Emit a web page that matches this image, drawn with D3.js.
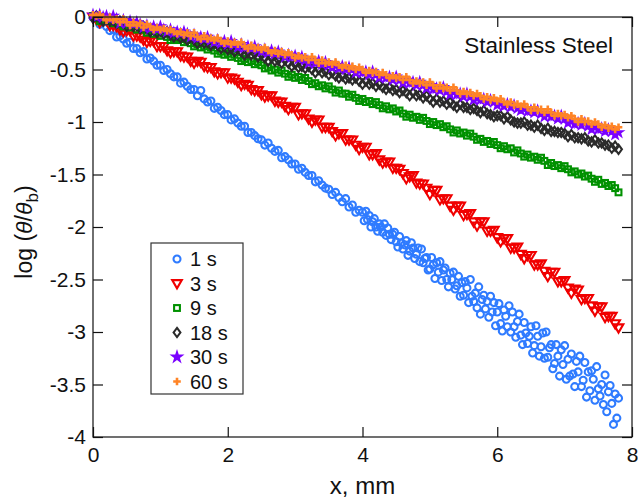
<!DOCTYPE html>
<html><head><meta charset="utf-8">
<script src="https://cdn.jsdelivr.net/npm/d3@7"></script>
<style>body{margin:0;background:#fff} text{font-family:Arial,"Liberation Sans",sans-serif;fill:#111}</style>
</head><body><svg id="c" width="638" height="498"></svg>
<script>
// x positions (mm), 0.05 mm grid used by the 3-60 s series
const xs = [0,0.05,0.1,0.15,0.2,0.25,0.3,0.35,0.4,0.45,0.5,0.55,0.6,0.65,0.7,0.75,0.8,0.85,0.9,0.95,1.0,1.05,1.1,1.15,1.2,1.25,1.3,1.35,1.4,1.45,1.5,1.55,1.6,1.65,1.7,1.75,1.8,1.85,1.9,1.95,2.0,2.05,2.1,2.15,2.2,2.25,2.3,2.35,2.4,2.45,2.5,2.55,2.6,2.65,2.7,2.75,2.8,2.85,2.9,2.95,3.0,3.05,3.1,3.15,3.2,3.25,3.3,3.35,3.4,3.45,3.5,3.55,3.6,3.65,3.7,3.75,3.8,3.85,3.9,3.95,4.0,4.05,4.1,4.15,4.2,4.25,4.3,4.35,4.4,4.45,4.5,4.55,4.6,4.65,4.7,4.75,4.8,4.85,4.9,4.95,5.0,5.05,5.1,5.15,5.2,5.25,5.3,5.35,5.4,5.45,5.5,5.55,5.6,5.65,5.7,5.75,5.8,5.85,5.9,5.95,6.0,6.05,6.1,6.15,6.2,6.25,6.3,6.35,6.4,6.45,6.5,6.55,6.6,6.65,6.7,6.75,6.8,6.85,6.9,6.95,7.0,7.05,7.1,7.15,7.2,7.25,7.3,7.35,7.4,7.45,7.5,7.55,7.6,7.65,7.7,7.75,7.8];
// x positions (mm) of the 1 s series (denser beyond 4 mm)
const xs1 = [0,0.05,0.1,0.15,0.2,0.25,0.3,0.35,0.4,0.45,0.5,0.55,0.6,0.65,0.7,0.75,0.8,0.85,0.9,0.95,1.0,1.05,1.1,1.15,1.2,1.25,1.3,1.35,1.4,1.45,1.5,1.55,1.6,1.65,1.7,1.75,1.8,1.85,1.9,1.95,2.0,2.05,2.1,2.15,2.2,2.25,2.3,2.35,2.4,2.45,2.5,2.55,2.6,2.65,2.7,2.75,2.8,2.85,2.9,2.95,3.0,3.05,3.1,3.15,3.2,3.25,3.3,3.35,3.4,3.45,3.5,3.55,3.6,3.65,3.7,3.75,3.8,3.85,3.9,3.95,
 4,4.025,4.05,4.075,4.1,4.125,4.15,4.175,4.2,4.225,4.25,4.275,4.3,4.325,4.35,4.375,4.4,4.425,4.45,4.475,4.5,4.525,4.55,4.575,4.6,4.625,4.65,4.675,4.7,4.725,4.75,4.775,4.8,4.825,4.85,4.875,4.9,4.925,4.95,4.975,5,5.025,5.05,5.075,5.1,5.125,5.15,5.175,5.2,5.225,5.25,5.275,5.3,5.325,5.35,5.375,5.4,5.425,5.45,5.475,5.5,5.525,5.55,5.575,5.6,5.625,5.65,5.675,5.7,5.725,5.75,5.775,5.8,5.825,5.85,5.875,5.9,5.925,5.95,5.975,6,6.025,6.05,6.075,6.1,6.125,6.15,6.175,6.2,6.225,6.25,6.275,6.3,6.325,6.35,6.375,6.4,6.425,6.45,6.475,6.5,6.525,6.55,6.575,6.6,6.625,6.65,6.675,6.7,6.725,6.75,6.775,6.8,6.825,6.85,6.875,6.9,6.925,6.95,6.975,7,7.025,7.05,7.075,7.1,7.125,7.15,7.175,7.2,7.225,7.25,7.275,7.3,7.325,7.35,7.375,7.4,7.425,7.45,7.475,7.5,7.525,7.55,7.575,7.6,7.625,7.65,7.675,7.7,7.725,7.75,7.775,7.8];

const s1 = [0,-0.01,-0.07,-0.05,-0.09,-0.13,-0.12,-0.19,-0.18,-0.21,-0.25,-0.24,-0.30,-0.30,-0.34,-0.33,-0.40,-0.39,-0.42,-0.46,-0.46,-0.51,-0.50,-0.54,-0.57,-0.57,-0.63,-0.62,-0.66,-0.69,-0.69,-0.75,-0.70,-0.78,-0.81,-0.80,-0.87,-0.86,-0.89,-0.93,-0.93,-0.98,-0.97,-1.01,-1.04,-1.04,-1.10,-1.10,-1.13,-1.16,-1.17,-1.22,-1.20,-1.25,-1.28,-1.27,-1.34,-1.33,-1.36,-1.40,-1.40,-1.45,-1.44,-1.48,-1.51,-1.51,-1.57,-1.56,-1.60,-1.63,-1.64,-1.69,-1.67,-1.72,-1.76,-1.73,-1.81,-1.79,-1.86,-1.84,
 -1.86,-1.94,-1.85,-1.93,-1.89,-2.00,-1.95,-1.92,-2.00,-2.04,-1.97,-2.00,-2.05,-1.97,-2.08,-2.01,-2.07,-2.12,-2.07,-2.05,-2.14,-2.19,-2.09,-2.15,-2.21,-2.17,-2.13,-2.27,-2.23,-2.15,-2.20,-2.30,-2.26,-2.20,-2.33,-2.21,-2.34,-2.30,-2.29,-2.41,-2.40,-2.29,-2.36,-2.49,-2.34,-2.43,-2.33,-2.51,-2.41,-2.39,-2.50,-2.57,-2.44,-2.50,-2.43,-2.59,-2.56,-2.47,-2.66,-2.53,-2.65,-2.52,-2.58,-2.72,-2.50,-2.66,-2.71,-2.63,-2.77,-2.57,-2.83,-2.69,-2.65,-2.78,-2.71,-2.86,-2.66,-2.81,-2.72,-2.94,-2.81,-2.73,-2.92,-2.99,-2.79,-2.85,-2.95,-2.75,-3.00,-2.81,-2.95,-3.05,-2.90,-2.83,-3.03,-3.12,-2.91,-3.01,-3.11,-3.04,-2.95,-3.20,-3.13,-2.94,-3.04,-3.23,-3.14,-3.01,-3.25,-3.00,-3.24,-3.15,-3.12,-3.35,-3.30,-3.12,-3.23,-3.42,-3.17,-3.31,-3.13,-3.45,-3.26,-3.42,-3.21,-3.40,-3.52,-3.28,-3.38,-3.23,-3.52,-3.46,-3.29,-3.62,-3.38,-3.56,-3.37,-3.45,-3.65,-3.33,-3.54,-3.61,-3.50,-3.69,-3.41,-3.76,-3.57,-3.51,-3.68,-3.88,-3.59,-3.82,-3.63];
const s3 = [0,-0.02,-0.05,-0.03,-0.03,-0.08,-0.08,-0.09,-0.12,-0.14,-0.13,-0.13,-0.18,-0.18,-0.19,-0.22,-0.24,-0.23,-0.23,-0.28,-0.28,-0.28,-0.32,-0.34,-0.33,-0.33,-0.37,-0.38,-0.38,-0.42,-0.44,-0.42,-0.43,-0.47,-0.48,-0.48,-0.52,-0.54,-0.53,-0.53,-0.58,-0.58,-0.59,-0.62,-0.65,-0.64,-0.65,-0.69,-0.70,-0.70,-0.74,-0.76,-0.75,-0.75,-0.80,-0.81,-0.81,-0.85,-0.88,-0.86,-0.86,-0.93,-0.92,-0.92,-0.97,-1.00,-0.98,-0.98,-1.05,-1.05,-1.05,-1.09,-1.13,-1.11,-1.11,-1.17,-1.17,-1.17,-1.22,-1.26,-1.24,-1.24,-1.31,-1.31,-1.30,-1.36,-1.39,-1.38,-1.38,-1.44,-1.44,-1.45,-1.49,-1.54,-1.52,-1.51,-1.58,-1.59,-1.59,-1.63,-1.69,-1.65,-1.65,-1.74,-1.73,-1.73,-1.80,-1.84,-1.80,-1.80,-1.89,-1.88,-1.87,-1.95,-1.99,-1.95,-1.95,-2.04,-2.04,-2.03,-2.10,-2.14,-2.11,-2.11,-2.20,-2.20,-2.19,-2.26,-2.30,-2.27,-2.27,-2.36,-2.36,-2.35,-2.42,-2.47,-2.43,-2.43,-2.52,-2.52,-2.51,-2.58,-2.63,-2.59,-2.60,-2.69,-2.68,-2.68,-2.75,-2.80,-2.76,-2.76,-2.86,-2.85,-2.85,-2.92,-2.96];
const s9 = [0.01,-0.01,-0.04,-0.01,-0.04,-0.03,-0.06,-0.04,-0.07,-0.09,-0.07,-0.10,-0.09,-0.12,-0.10,-0.12,-0.15,-0.13,-0.16,-0.15,-0.18,-0.16,-0.19,-0.22,-0.20,-0.22,-0.21,-0.24,-0.22,-0.25,-0.28,-0.26,-0.29,-0.28,-0.31,-0.29,-0.32,-0.35,-0.33,-0.36,-0.35,-0.38,-0.36,-0.39,-0.42,-0.40,-0.43,-0.42,-0.45,-0.43,-0.46,-0.49,-0.48,-0.51,-0.50,-0.53,-0.51,-0.54,-0.57,-0.55,-0.58,-0.57,-0.60,-0.58,-0.61,-0.64,-0.63,-0.66,-0.65,-0.68,-0.66,-0.69,-0.72,-0.70,-0.73,-0.73,-0.76,-0.74,-0.77,-0.80,-0.78,-0.81,-0.80,-0.83,-0.81,-0.84,-0.87,-0.85,-0.88,-0.87,-0.90,-0.89,-0.92,-0.95,-0.93,-0.96,-0.95,-0.98,-0.96,-0.99,-1.02,-1.00,-1.03,-1.02,-1.05,-1.04,-1.07,-1.10,-1.08,-1.11,-1.10,-1.13,-1.11,-1.14,-1.17,-1.16,-1.19,-1.18,-1.21,-1.19,-1.22,-1.25,-1.23,-1.26,-1.25,-1.29,-1.27,-1.30,-1.33,-1.31,-1.34,-1.33,-1.36,-1.34,-1.37,-1.41,-1.39,-1.42,-1.41,-1.44,-1.42,-1.45,-1.48,-1.47,-1.50,-1.49,-1.52,-1.51,-1.54,-1.57,-1.55,-1.59,-1.58,-1.61,-1.60,-1.63,-1.67];
const s18 = [-0.01,0.01,-0.01,-0.04,-0.02,-0.04,-0.03,-0.06,-0.04,-0.06,-0.09,-0.07,-0.09,-0.08,-0.11,-0.09,-0.11,-0.14,-0.12,-0.15,-0.13,-0.16,-0.14,-0.17,-0.19,-0.17,-0.20,-0.19,-0.22,-0.19,-0.22,-0.25,-0.23,-0.25,-0.24,-0.27,-0.25,-0.27,-0.30,-0.28,-0.31,-0.30,-0.33,-0.30,-0.33,-0.36,-0.34,-0.36,-0.35,-0.38,-0.36,-0.39,-0.42,-0.39,-0.42,-0.41,-0.44,-0.41,-0.44,-0.47,-0.45,-0.48,-0.47,-0.49,-0.47,-0.50,-0.53,-0.50,-0.53,-0.52,-0.55,-0.53,-0.56,-0.58,-0.56,-0.59,-0.58,-0.60,-0.58,-0.61,-0.64,-0.61,-0.64,-0.63,-0.66,-0.64,-0.67,-0.69,-0.67,-0.70,-0.69,-0.72,-0.70,-0.72,-0.75,-0.72,-0.75,-0.74,-0.77,-0.75,-0.78,-0.81,-0.78,-0.81,-0.80,-0.83,-0.81,-0.84,-0.86,-0.83,-0.86,-0.86,-0.88,-0.87,-0.89,-0.91,-0.89,-0.92,-0.93,-0.95,-0.94,-0.94,-0.97,-0.95,-0.98,-1.00,-1.01,-1.01,-1.00,-1.03,-1.03,-1.05,-1.03,-1.06,-1.08,-1.06,-1.09,-1.09,-1.10,-1.10,-1.11,-1.14,-1.12,-1.15,-1.15,-1.16,-1.15,-1.18,-1.19,-1.17,-1.20,-1.20,-1.22,-1.22,-1.25,-1.23,-1.26];
const s30 = [0.02,0.00,0.02,0.00,0.01,-0.02,0.01,-0.02,-0.06,-0.03,-0.06,-0.04,-0.07,-0.05,-0.07,-0.10,-0.08,-0.11,-0.09,-0.12,-0.09,-0.12,-0.14,-0.12,-0.15,-0.14,-0.16,-0.14,-0.16,-0.19,-0.17,-0.20,-0.19,-0.21,-0.19,-0.22,-0.24,-0.22,-0.25,-0.23,-0.26,-0.23,-0.26,-0.29,-0.26,-0.29,-0.28,-0.30,-0.28,-0.31,-0.33,-0.31,-0.34,-0.32,-0.35,-0.33,-0.35,-0.38,-0.36,-0.38,-0.37,-0.40,-0.38,-0.41,-0.44,-0.41,-0.44,-0.42,-0.45,-0.43,-0.46,-0.48,-0.46,-0.49,-0.47,-0.50,-0.48,-0.50,-0.53,-0.51,-0.53,-0.52,-0.55,-0.52,-0.55,-0.58,-0.56,-0.58,-0.57,-0.60,-0.57,-0.60,-0.63,-0.60,-0.63,-0.62,-0.65,-0.62,-0.65,-0.68,-0.65,-0.69,-0.68,-0.70,-0.67,-0.71,-0.74,-0.71,-0.74,-0.73,-0.76,-0.73,-0.76,-0.79,-0.77,-0.79,-0.78,-0.81,-0.79,-0.81,-0.84,-0.82,-0.85,-0.83,-0.86,-0.84,-0.87,-0.89,-0.87,-0.90,-0.89,-0.91,-0.89,-0.92,-0.95,-0.92,-0.95,-0.94,-0.97,-0.94,-0.97,-1.01,-0.99,-1.02,-1.01,-1.03,-1.01,-1.04,-1.07,-1.05,-1.07,-1.06,-1.09,-1.07,-1.09,-1.12,-1.10];
const s60 = [0.02,0.01,0.02,0.00,-0.03,0.00,-0.03,-0.02,-0.05,-0.02,-0.05,-0.08,-0.05,-0.08,-0.06,-0.10,-0.07,-0.09,-0.12,-0.10,-0.12,-0.11,-0.13,-0.12,-0.14,-0.16,-0.14,-0.17,-0.15,-0.18,-0.15,-0.19,-0.21,-0.18,-0.21,-0.20,-0.22,-0.20,-0.23,-0.25,-0.23,-0.26,-0.24,-0.26,-0.24,-0.28,-0.30,-0.27,-0.30,-0.29,-0.31,-0.29,-0.32,-0.34,-0.32,-0.35,-0.33,-0.36,-0.34,-0.36,-0.39,-0.37,-0.39,-0.38,-0.41,-0.38,-0.41,-0.44,-0.41,-0.44,-0.43,-0.45,-0.43,-0.46,-0.48,-0.46,-0.49,-0.47,-0.50,-0.48,-0.50,-0.53,-0.51,-0.53,-0.52,-0.55,-0.53,-0.55,-0.58,-0.56,-0.58,-0.57,-0.60,-0.57,-0.60,-0.63,-0.61,-0.63,-0.62,-0.65,-0.62,-0.65,-0.68,-0.65,-0.68,-0.67,-0.70,-0.67,-0.70,-0.73,-0.71,-0.73,-0.72,-0.75,-0.73,-0.75,-0.78,-0.76,-0.79,-0.77,-0.80,-0.78,-0.81,-0.83,-0.81,-0.84,-0.83,-0.85,-0.83,-0.86,-0.89,-0.86,-0.89,-0.88,-0.91,-0.88,-0.91,-0.94,-0.92,-0.94,-0.93,-0.96,-0.94,-0.97,-1.00,-0.97,-1.00,-0.99,-1.02,-1.00,-1.02,-1.05,-1.03,-1.06,-1.04,-1.07,-1.05];

const seriesNames = ["1 s","3 s","9 s","18 s","30 s","60 s"];
const seriesColors = ["#2f7bff","#f00000","#009100","#2b2b2b","#7a00ff","#ff8426"];
const seriesShapes = ["circle","triangle","square","diamond","star","plus"];
const xTicks = [0,2,4,6,8];
const yTicks = [0,-0.5,-1,-1.5,-2,-2.5,-3,-3.5,-4];
const yTickLabels = ["0","-0.5","-1","-1.5","-2","-2.5","-3","-3.5","-4"];

const series = [
  {xv:xs1, yv:s1},{xv:xs, yv:s3},{xv:xs, yv:s9},
  {xv:xs, yv:s18},{xv:xs, yv:s30},{xv:xs, yv:s60}
];

const svg = d3.select("#c");
const L=93, R=632, T=17, B=437;
const x = d3.scaleLinear().domain([0,8]).range([L,R]);
const y = d3.scaleLinear().domain([-4,0]).range([B,T]);

function marker(g, shape, color, legend){
  const k = legend ? 1.0 : 1;
  if(shape==="circle") g.append("circle").attr("r",3.5*k).attr("fill","none").attr("stroke",color).attr("stroke-width",2.1);
  else if(shape==="triangle") g.append("path").attr("d",`M${-4.8*k},${-3.4*k}L${4.8*k},${-3.4*k}L0,${4.8*k}Z`).attr("fill","none").attr("stroke",color).attr("stroke-width",2.1);
  else if(shape==="square") g.append("rect").attr("x",-2.9*k).attr("y",-2.9*k).attr("width",5.8*k).attr("height",5.8*k).attr("fill","none").attr("stroke",color).attr("stroke-width",2.1);
  else if(shape==="diamond") g.append("path").attr("d",`M0,${-4.6*k}L${3.4*k},0L0,${4.6*k}L${-3.4*k},0Z`).attr("fill","none").attr("stroke",color).attr("stroke-width",2.1);
  else if(shape==="star") g.append("path").attr("d",d3.symbol(d3.symbolStar,legend?70:60)()).attr("fill",color);
  else g.append("path").attr("d",`M${-3.8*k},0H${3.8*k}M0,${-3.8*k}V${3.8*k}`).attr("stroke",color).attr("stroke-width",2.6);
}

const plot = svg.append("g");
series.forEach((s,i)=>{
  const gs = plot.append("g");
  const n = Math.min(s.xv.length, s.yv.length);
  for(let j=0;j<n;j++){
    const g = gs.append("g").attr("transform",`translate(${x(s.xv[j])},${y(s.yv[j])})`);
    marker(g, seriesShapes[i], seriesColors[i], false);
  }
});

// frame
svg.append("rect").attr("x",L).attr("y",T).attr("width",R-L).attr("height",B-T)
  .attr("fill","none").attr("stroke","#111").attr("stroke-width",1.2);

const fs = "21px";
const ax = svg.append("g").attr("transform",`translate(0,${B})`)
  .call(d3.axisBottom(x).tickValues(xTicks).tickFormat(d3.format("d")).tickSizeInner(-10).tickSizeOuter(0).tickPadding(10));
const at = svg.append("g").attr("transform",`translate(0,${T})`)
  .call(d3.axisTop(x).tickValues(xTicks).tickFormat("").tickSizeInner(-10).tickSizeOuter(0));
const ay = svg.append("g").attr("transform",`translate(${L},0)`)
  .call(d3.axisLeft(y).tickValues(yTicks).tickFormat((d,i)=>yTickLabels[i]).tickSizeInner(-10).tickSizeOuter(0).tickPadding(7));
const ar = svg.append("g").attr("transform",`translate(${R},0)`)
  .call(d3.axisRight(y).tickValues(yTicks).tickFormat("").tickSizeInner(-10).tickSizeOuter(0));
[ax,at,ay,ar].forEach(a=>{
  a.select(".domain").remove();
  a.selectAll(".tick line").attr("stroke","#111").attr("stroke-width",1.2);
  a.selectAll("text").attr("font-size",fs).attr("font-family","Arial, 'Liberation Sans', sans-serif").attr("fill","#111");
});

// axis titles
svg.append("text").attr("x",(L+R)/2).attr("y",494).attr("text-anchor","middle")
  .attr("font-size","24px").text("x, mm");
const yl = svg.append("text").attr("transform",`translate(32,${(T+B)/2+5}) rotate(-90)`)
  .attr("text-anchor","middle").attr("font-size","23px");
yl.append("tspan").text("log (");
yl.append("tspan").attr("font-style","italic").text("θ");
yl.append("tspan").text("/");
yl.append("tspan").attr("font-style","italic").text("θ");
yl.append("tspan").attr("font-size","17px").attr("dy","6").text("b");
yl.append("tspan").attr("dy","-6").text(")");

// annotation
svg.append("text").attr("x",613).attr("y",53).attr("text-anchor","end")
  .attr("font-size","22.5px").text("Stainless Steel");

// legend
const lg = svg.append("g");
lg.append("rect").attr("x",151).attr("y",243).attr("width",92).attr("height",151)
  .attr("fill","#fff").attr("stroke","#333").attr("stroke-width",1.2);
seriesNames.forEach((n,i)=>{
  const cy = 259 + i*24.5;
  const g = lg.append("g").attr("transform",`translate(177,${cy})`);
  marker(g, seriesShapes[i], seriesColors[i], true);
  lg.append("text").attr("x",190).attr("y",cy+7).attr("font-size","20px").text(n);
});
</script></body></html>
